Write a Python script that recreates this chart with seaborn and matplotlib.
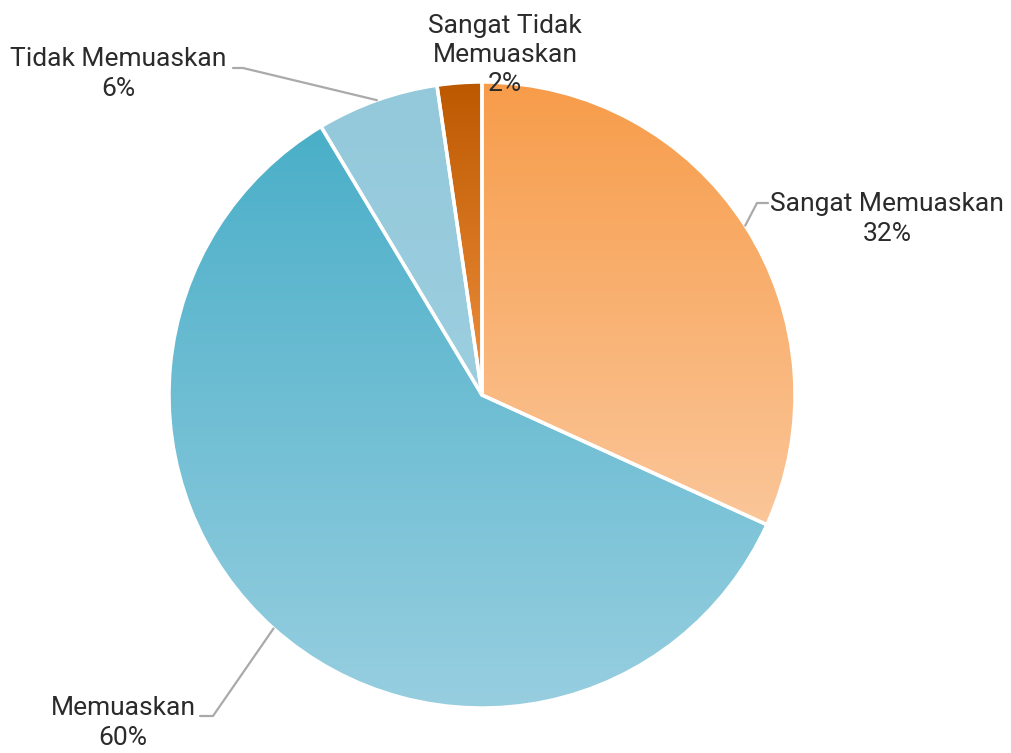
import numpy as np
import matplotlib
matplotlib.use("Agg")
import matplotlib.pyplot as plt
import seaborn as sns

# data
categories = ["Sangat Memuaskan", "Memuaskan", "Tidak Memuaskan", "Sangat Tidak\nMemuaskan"]
shares = [31.8, 59.6, 6.3, 2.3]
# gradient colours per slice (top, bottom)
top_colors = ["#F79C4A", "#4AAFC8", "#93C9DB", "#BC5800"]
bottom_colors = ["#FBC699", "#97CEE0", "#9CCEDF", "#F0903E"]

sns.set_theme(style="white")
plt.rcParams["font.family"] = ["Roboto", "DejaVu Sans"]

fig = plt.figure(figsize=(10.11, 7.53), dpi=100)
ax = fig.add_axes([(482 - 313) / 1011, (753 - 708) / 753, 626 / 1011, 626 / 753])

wedges, _ = ax.pie(shares, startangle=90, counterclock=False, radius=1,
                   wedgeprops=dict(edgecolor="white", linewidth=2.5))

grad = np.linspace(0, 1, 256).reshape(-1, 1)
for w, c1, c2 in zip(wedges, top_colors, bottom_colors):
    cmap = sns.blend_palette([c1, c2], as_cmap=True)
    bb = w.get_path().get_extents(w.get_patch_transform())
    im = ax.imshow(grad, cmap=cmap, aspect="auto", origin="upper",
                   extent=[bb.x0, bb.x1, bb.y0, bb.y1], zorder=1)
    im.set_clip_path(w)
    w.set_facecolor("none")
    w.set_zorder(2)

ax.set_xlim(-1.0, 1.0)
ax.set_ylim(-1.0, 1.0)
ax.set_aspect("equal")
ax.axis("off")

# labels with leader lines (pixel positions converted to pie units)
def px(x, y):
    return (x - 482) / 313, (395 - y) / 313

pcts = ["%.0f%%" % s for s in shares]
text_pos = [px(887, 219), px(123, 723), px(118, 74), px(505, 55)]
elbows = [(px(757, 203), px(768, 203)), (px(213, 716), px(200, 716)),
          (px(243, 68), px(233, 68)), None]

cum = np.cumsum([0] + shares)
for i, lab in enumerate(categories):
    ax.text(*text_pos[i], lab + "\n" + pcts[i], ha="center", va="center",
            fontsize=19, fontweight="normal", color="#2B2B2B",
            linespacing=1.28, clip_on=False, zorder=5)
    if elbows[i] is None:
        continue
    mid = np.deg2rad(90 - (cum[i] + cum[i + 1]) / 2 * 3.6)
    x0, y0 = np.cos(mid), np.sin(mid)
    (ex, ey), (tx, ty) = elbows[i]
    ax.plot([x0, ex, tx], [y0, ey, ty], color="#AAAAAA", lw=1.6,
            clip_on=False, zorder=4)

fig.savefig("out.png", dpi=100, facecolor="white")
